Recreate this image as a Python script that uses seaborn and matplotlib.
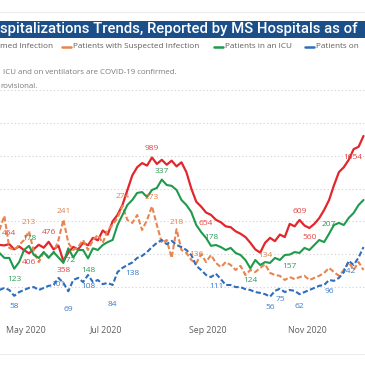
import pandas as pd
import matplotlib
matplotlib.use("Agg")
import matplotlib.pyplot as plt
from matplotlib.lines import Line2D
from matplotlib.patches import Rectangle
import seaborn as sns

# one reading every 3 days, starting 27 Apr 2020
dates = pd.date_range("2020-04-27", periods=75, freq="3D")

confirmed = [457, 454, 462, 430, 448, 425, 406, 432, 458, 440, 476, 430, 452, 358, 410,
             445, 430, 470, 455, 500, 485, 545, 520, 600, 640, 700, 790, 880, 930, 955,
             940, 989, 950, 975, 945, 970, 935, 960, 900, 800, 720, 690, 654, 640, 610,
             595, 570, 565, 540, 525, 505, 470, 430, 410, 470, 500, 480, 520, 505, 585,
             570, 609, 575, 560, 585, 620, 670, 730, 820, 900, 930, 975, 1040, 1054, 1120]

suspected = [216, 250, 173, 168, 180, 192, 213, 163, 139, 163, 151, 161, 192, 241, 185,
             168, 175, 192, 168, 192, 204, 185, 216, 228, 245, 274, 240, 233, 252, 216,
             240, 273, 228, 185, 192, 149, 218, 168, 161, 144, 136, 158, 139, 156, 137,
             127, 139, 132, 120, 130, 108, 120, 115, 125, 134, 113, 108, 106, 96, 103,
             98, 103, 106, 96, 101, 106, 113, 125, 115, 106, 120, 139, 120, 139, 120]

icu = [161, 149, 149, 123, 139, 168, 178, 156, 149, 163, 149, 163, 150, 137, 172,
       150, 168, 168, 148, 172, 168, 180, 187, 192, 228, 252, 276, 288, 305, 307,
       295, 312, 317, 337, 324, 322, 312, 288, 276, 259, 228, 211, 197, 178, 180,
       175, 168, 173, 161, 156, 144, 124, 144, 132, 139, 137, 149, 144, 156, 157,
       163, 161, 173, 168, 180, 192, 187, 207, 228, 233, 228, 245, 257, 276, 288]

ventilator = [72, 77, 72, 58, 67, 72, 77, 79, 72, 77, 82, 84, 101, 89, 69,
              96, 101, 91, 108, 91, 96, 86, 89, 84, 115, 125, 132, 138, 149, 154,
              163, 175, 185, 192, 182, 190, 180, 175, 168, 156, 130, 120, 108, 103, 111,
              98, 84, 84, 79, 79, 74, 72, 67, 65, 62, 56, 70, 75, 67, 72,
              70, 62, 67, 72, 77, 82, 84, 96, 94, 101, 115, 142, 132, 150, 175]

tick_months = ["2020-05-01", "2020-07-01", "2020-09-01", "2020-11-01"]
tick_labels = ["May 2020", "Jul 2020", "Sep 2020", "Nov 2020"]

# data labels: (series, point index, vertical offset in points)
point_labels = [
    ("confirmed", 1, 8.5), ("confirmed", 6, -6.5), ("confirmed", 10, 7),
    ("confirmed", 13, -6.5), ("confirmed", 31, 6.5), ("confirmed", 42, -8),
    ("confirmed", 61, 6), ("confirmed", 63, -7), ("confirmed", 73, -8),
    ("suspected", 6, 6), ("suspected", 13, 6), ("suspected", 25, 6.5),
    ("suspected", 31, 6), ("suspected", 36, 5), ("suspected", 40, 6),
    ("suspected", 54, 6.5),
    ("icu", 3, -8), ("icu", 6, 5), ("icu", 14, -9), ("icu", 18, -8.5),
    ("icu", 33, 6), ("icu", 43, 6), ("icu", 51, -8.5), ("icu", 59, -8.5),
    ("icu", 67, 6.5),
    ("ventilator", 3, -8), ("ventilator", 12, -5), ("ventilator", 14, -13),
    ("ventilator", 18, -8.5), ("ventilator", 23, -14), ("ventilator", 27, -8),
    ("ventilator", 44, -9), ("ventilator", 55, -8), ("ventilator", 57, -8),
    ("ventilator", 61, -9), ("ventilator", 67, -8.5), ("ventilator", 71, -8),
]

series = {
    "confirmed": (confirmed, "#e3262b", "-", "#e04545"),
    "suspected": (suspected, "#e8854f", (0, (2.5, 1.2)), "#e0824f"),
    "icu": (icu, "#1f9a4c", "-", "#2f9c5a"),
    "ventilator": (ventilator, "#2f6dbd", (0, (2.5, 1.2)), "#3d7cc4"),
}

sns.set_style("white")
plt.rcParams["font.family"] = ["Open Sans", "DejaVu Sans"]

W = 365
fig = plt.figure(figsize=(3.65, 3.65), dpi=100)

def fx(px):
    return px / W

def fy(py):
    return (W - py) / W

# frame lines of the report card
for py in (12, 354):
    fig.add_artist(Line2D([0, 1], [fy(py), fy(py)], color="#ececec", lw=0.8))

# title band
fig.add_artist(Rectangle((0, fy(38)), 1, fy(21) - fy(38), color="#1b4f8a", lw=0))
fig.text(fx(0), fy(29.5), "spitalizations Trends, Reported by MS Hospitals as of",
         color="white", fontsize=10.7, fontweight="medium", va="center", ha="left",
         family=["Roboto", "DejaVu Sans"])

# legend row
leg_y = fy(47)
legend_items = [(None, "med Infection", 0),
                ("#e8854f", "Patients with Suspected Infection", 62),
                ("#1f9a4c", "Patients in an ICU", 214),
                ("#2f6dbd", "Patients on", 305)]
for col, txt, x0 in legend_items:
    tx = x0
    if col is not None:
        fig.add_artist(Line2D([fx(x0), fx(x0 + 9)], [leg_y, leg_y], color=col, lw=1.8))
        tx = x0 + 11
    fig.text(fx(tx), leg_y, txt, color="#605e5c", fontsize=5.9, va="center", ha="left")

# notes
fig.text(fx(3), fy(73), "ICU and on ventilators are COVID-19 confirmed.",
         color="#7a7a7a", fontsize=5.7, va="center", ha="left")
fig.text(fx(0), fy(87), "rovisional.", color="#7a7a7a", fontsize=5.7,
         va="center", ha="left")

# plot area
ax = fig.add_axes([0, fy(320), 1, fy(90) - fy(320)])
ax.set_xlim(pd.Timestamp("2020-04-27 08:00"), pd.Timestamp("2020-12-05 22:00"))
ax.set_ylim(0, 1400)
ax.set_yticks(range(0, 1401, 200))
ax.grid(axis="y", color="#cfcfcf", linestyle=(0, (1, 2.2)), lw=0.8)
ax.grid(axis="x", visible=False)
ax2 = ax.twinx()
ax2.set_ylim(0, 552)

sns.lineplot(x=dates, y=confirmed, ax=ax, color=series["confirmed"][1], lw=1.6)
for name in ("suspected", "icu", "ventilator"):
    vals, col, ls, _ = series[name]
    sns.lineplot(x=dates, y=vals, ax=ax2, color=col, lw=1.5, linestyle=ls)

for name, i, dy in point_labels:
    vals, _, _, tcol = series[name]
    target = ax if name == "confirmed" else ax2
    ha, dx = "center", 0
    if i <= 1:
        ha, dx = "left", -2      # keep the first label inside the left edge
    elif i >= len(vals) - 2:
        ha, dx = "right", 3      # keep the last label inside the right edge
    target.annotate(str(vals[i]), (dates[i], vals[i]), xytext=(dx, dy),
                    textcoords="offset points", ha=ha, va="center",
                    fontsize=6, color=tcol, annotation_clip=False)

ax.set_xticks(pd.to_datetime(tick_months))
ax.set_xticklabels(tick_labels)
ax.tick_params(axis="x", length=0, pad=4, labelsize=6.3, labelcolor="#605e5c")
ax.get_xticklabels()[0].set_horizontalalignment("left")
ax.tick_params(axis="y", left=False, labelleft=False)
ax2.tick_params(axis="y", right=False, labelright=False)
ax2.set_yticks([])
for a in (ax, ax2):
    sns.despine(ax=a, left=True, bottom=True, right=True, top=True)
    a.set_xlabel("")
    a.set_ylabel("")

fig.savefig("out.png", dpi=100)
